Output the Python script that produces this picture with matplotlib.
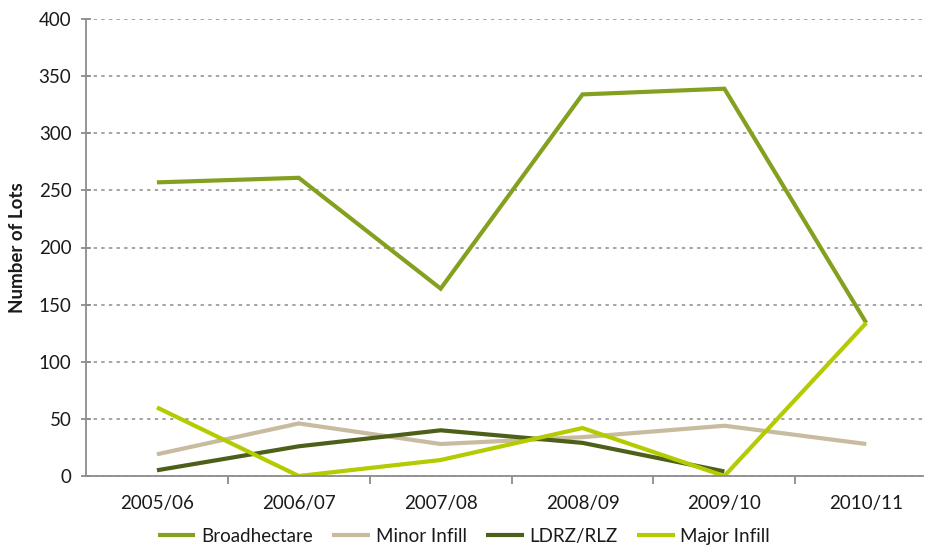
import matplotlib
matplotlib.use("Agg")
import matplotlib.pyplot as plt
from matplotlib.ticker import MultipleLocator, FixedLocator
import numpy as np

plt.rcParams['font.family'] = ['Lato', 'DejaVu Sans']

years = ["2005/06", "2006/07", "2007/08", "2008/09", "2009/10", "2010/11"]
broadhectare = [257, 261, 164, 334, 339, 134]
minor_infill = [19, 46, 28, 34, 44, 28]
ldrz_rlz = [5, 26, 40, 29, 4]
major_infill = [60, 0, 14, 42, 0, 134]

series = [
    ("Broadhectare", broadhectare, "#84a01f"),
    ("Minor Infill", minor_infill, "#c8bba0"),
    ("LDRZ/RLZ", ldrz_rlz, "#4d6019"),
    ("Major Infill", major_infill, "#b3cb00"),
]

fig = plt.figure(figsize=(9.28, 5.48), dpi=100)
ax = fig.add_axes([86 / 928, 72 / 548, (923 - 86) / 928, (476 - 19) / 548])

x = np.arange(len(years))
for name, vals, color in series:
    ax.plot(x[:len(vals)], vals, color=color, lw=3.0, label=name,
            solid_joinstyle='miter', solid_capstyle='butt')

ax.set_xlim(-0.5, 5.4)
ax.set_ylim(0, 400)
ax.yaxis.set_major_locator(MultipleLocator(50))
ax.grid(axis='y', color='#8c8c8c', linestyle=(0, (2.2, 2.8)), linewidth=1.1)
ax.set_axisbelow(True)

for s in ('top', 'right'):
    ax.spines[s].set_visible(False)
for s in ('left', 'bottom'):
    ax.spines[s].set_color('#8c8c8c')
    ax.spines[s].set_linewidth(1.3)

ax.set_xticks(x)
ax.set_xticklabels(years)
ax.xaxis.set_minor_locator(FixedLocator(np.arange(0.5, 5.0, 1.0)))
ax.tick_params(axis='x', which='major', length=0, pad=14, labelsize=13.5, labelcolor='#1a1a1a')
ax.tick_params(axis='x', which='minor', length=6, width=1.3, color='#8c8c8c', direction='out')
ax.tick_params(axis='y', length=7, width=1.3, color='#8c8c8c', direction='inout',
               pad=7, labelsize=13.5, labelcolor='#1a1a1a')

ax.set_ylabel("Number of Lots", fontsize=13.5, fontweight='bold', color='#1a1a1a', labelpad=9)

fig.legend(loc='lower center', bbox_to_anchor=(0.5, -0.025), ncol=4, frameon=False,
           fontsize=13.5, handlelength=2.0, handletextpad=0.3, columnspacing=1.05,
           labelcolor='#1a1a1a')

fig.savefig("out.png", dpi=100)
